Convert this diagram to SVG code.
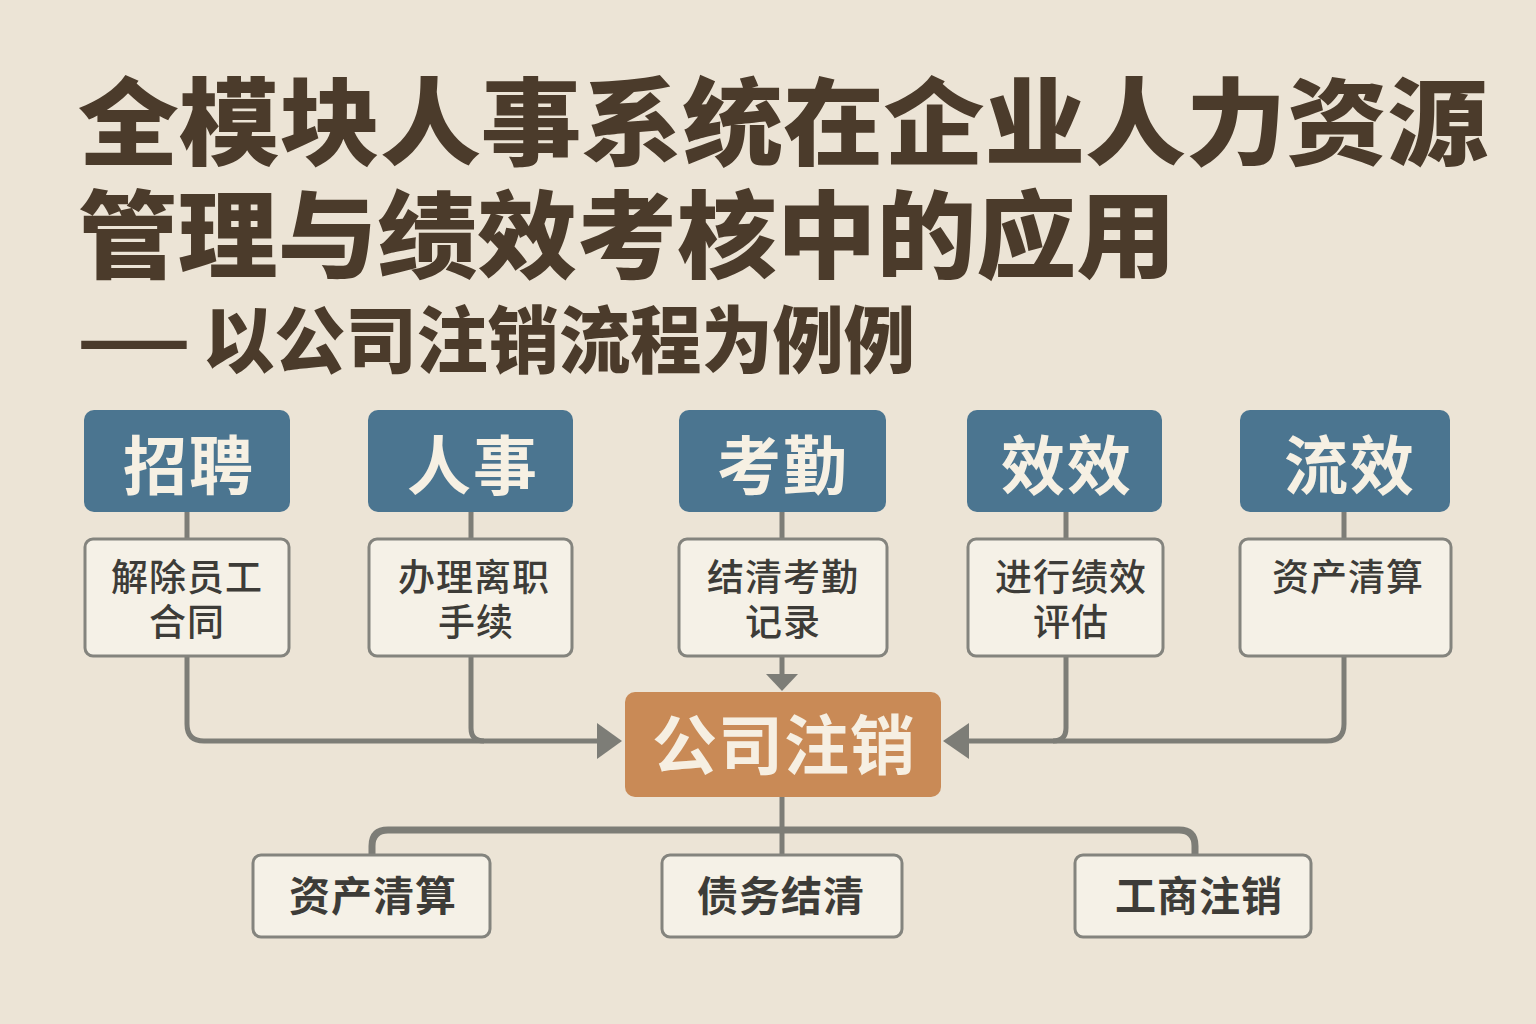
<svg xmlns="http://www.w3.org/2000/svg" width="1536" height="1024" viewBox="0 0 1536 1024">
<defs>
<style>
.bg{fill:#ece4d6}
.title{font-family:"Noto Sans CJK SC","Noto Sans CJK JP",sans-serif;font-weight:900;fill:#4b3b2b}
.hdr rect{fill:#4b7590}
.hdr text{font-family:"Noto Sans CJK SC",sans-serif;font-weight:700;font-size:64px;fill:#f6f0e3;text-anchor:middle;letter-spacing:2px}
.sub rect{fill:#f5f1e7;stroke:#84847e;stroke-width:3}
.sub text{font-family:"Noto Sans CJK SC",sans-serif;font-weight:500;font-size:37px;fill:#3d3c38;text-anchor:middle;letter-spacing:1px}
.center rect{fill:#c98a56}
.center text{font-family:"Noto Sans CJK SC",sans-serif;font-weight:700;font-size:65px;fill:#f6efe2;text-anchor:middle;letter-spacing:1px}
.bot text{font-weight:700;font-size:41px}
.conn path{fill:none;stroke:#7d7d77;stroke-width:5;stroke-linejoin:round}
.conn .thick{stroke-width:7}
.conn polygon{fill:#7d7d77}
</style>
</defs>
<rect class="bg" x="0" y="0" width="1536" height="1024"/>

<g id="title">
<text class="title" x="78" y="158" font-size="95" textLength="1410" lengthAdjust="spacingAndGlyphs">全模块人事系统在企业人力资源</text>
<text class="title" x="78" y="271" font-size="95" textLength="1098" lengthAdjust="spacingAndGlyphs">管理与绩效考核中的应用</text>
<text class="title" x="78" y="366" font-size="73" textLength="112" lengthAdjust="spacingAndGlyphs">——</text>
<text class="title" x="203" y="367" font-size="73" textLength="712" lengthAdjust="spacingAndGlyphs">以公司注销流程为例例</text>
</g>

<g id="connectors" class="conn">
<path d="M187 512 V539"/>
<path d="M471 512 V539"/>
<path d="M782 512 V539"/>
<path d="M1066 512 V539"/>
<path d="M1344 512 V539"/>
<path d="M782 656 V676"/>
<polygon points="766,674 798,674 782,691"/>
<path d="M187 656 V724 Q187 741 204 741 H600"/>
<path d="M471 656 V728 Q471 741 484 741"/>
<polygon points="597,723 597,759 622,741"/>
<path d="M1344 656 V724 Q1344 741 1327 741 H966"/>
<path d="M1066 656 V728 Q1066 741 1053 741"/>
<polygon points="969,723 969,759 943,741"/>
<path d="M782 797 V855"/>
<path class="thick" d="M372 855 V846 Q372 830 388 830 H1179 Q1195 830 1195 846 V855"/>
</g>

<g id="hdr-zhaopin" class="hdr"><rect x="84" y="410" width="206" height="102" rx="10"/><text x="189" y="489">招聘</text></g>
<g id="hdr-renshi" class="hdr"><rect x="368" y="410" width="205" height="102" rx="10"/><text x="473" y="489">人事</text></g>
<g id="hdr-kaoqin" class="hdr"><rect x="679" y="410" width="207" height="102" rx="10"/><text x="783" y="489">考勤</text></g>
<g id="hdr-xiaoxiao" class="hdr"><rect x="967" y="410" width="195" height="102" rx="10"/><text x="1067" y="489">效效</text></g>
<g id="hdr-liuxiao" class="hdr"><rect x="1240" y="410" width="210" height="102" rx="10"/><text x="1350" y="489">流效</text></g>

<g id="sub-1" class="sub"><rect x="85" y="539" width="204" height="117" rx="8"/><text x="187" y="591">解除员工</text><text x="187" y="636">合同</text></g>
<g id="sub-2" class="sub"><rect x="369" y="539" width="203" height="117" rx="8"/><text x="474" y="591">办理离职</text><text x="476" y="636">手续</text></g>
<g id="sub-3" class="sub"><rect x="679" y="539" width="208" height="117" rx="8"/><text x="783" y="591">结清考勤</text><text x="783" y="636">记录</text></g>
<g id="sub-4" class="sub"><rect x="968" y="539" width="195" height="117" rx="8"/><text x="1071" y="591">进行绩效</text><text x="1071" y="636">评估</text></g>
<g id="sub-5" class="sub"><rect x="1240" y="539" width="211" height="117" rx="8"/><text x="1348" y="591">资产清算</text></g>

<g id="center" class="center"><rect x="625" y="692" width="316" height="105" rx="10"/><text x="784" y="769">公司注销</text></g>

<g id="bot-1" class="sub bot"><rect x="253" y="855" width="237" height="82" rx="8"/><text x="373" y="911">资产清算</text></g>
<g id="bot-2" class="sub bot"><rect x="662" y="855" width="240" height="82" rx="8"/><text x="781" y="911">债务结清</text></g>
<g id="bot-3" class="sub bot"><rect x="1075" y="855" width="236" height="82" rx="8"/><text x="1199" y="911">工商注销</text></g>
</svg>
